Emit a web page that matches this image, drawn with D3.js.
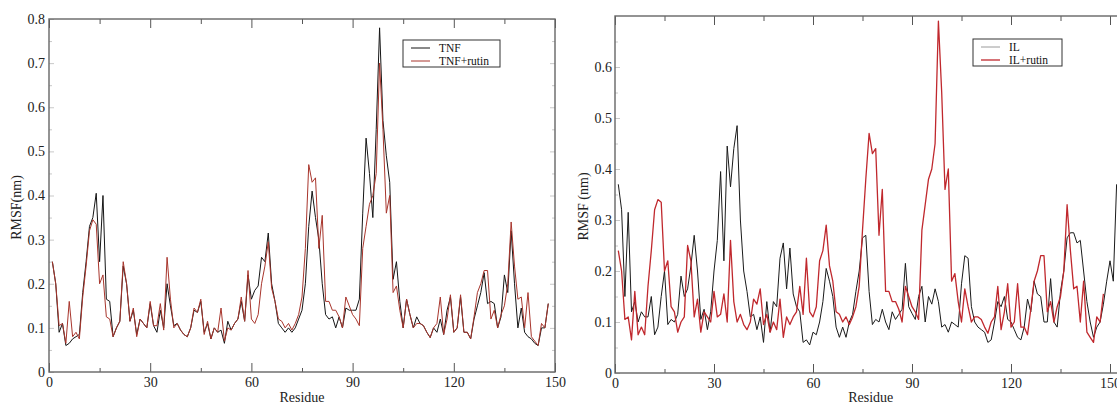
<!DOCTYPE html>
<html>
<head>
<meta charset="utf-8">
<script src="https://cdn.jsdelivr.net/npm/d3@7"></script>
<style>
  html, body { margin: 0; padding: 0; background: #fff; overflow: hidden; }
  svg { display: block; font-family: "Liberation Serif", "DejaVu Serif", serif; }
  .tick-label { font-size: 14px; fill: #222; }
  .axis-title { font-size: 14px; fill: #222; }
  .legend-text { font-size: 11.5px; fill: #111; }
</style>
</head>
<body>
<div id="chart"></div>
<script>
//data - RMSF per residue (nm)

var tnf = [0.25, 0.2, 0.09, 0.11, 0.06, 0.065, 0.075, 0.08, 0.085, 0.18,
    0.25, 0.33, 0.35, 0.405, 0.25, 0.40, 0.165, 0.16, 0.08, 0.1,
    0.115, 0.24, 0.2, 0.115, 0.14, 0.085, 0.12, 0.11, 0.1, 0.155,
    0.105, 0.09, 0.14, 0.1, 0.2, 0.15, 0.105, 0.11, 0.095, 0.085,
    0.08, 0.1, 0.14, 0.135, 0.16, 0.09, 0.11, 0.075, 0.1, 0.09,
    0.095, 0.065, 0.115, 0.095, 0.11, 0.12, 0.16, 0.115, 0.22, 0.165,
    0.185, 0.195, 0.26, 0.25, 0.315, 0.2, 0.16, 0.11, 0.1, 0.09,
    0.1, 0.09, 0.1, 0.12, 0.14, 0.2, 0.33, 0.41, 0.35, 0.3,
    0.2, 0.13, 0.12, 0.125, 0.1, 0.125, 0.1, 0.145, 0.14, 0.14,
    0.14, 0.165, 0.36, 0.53, 0.45, 0.35, 0.55, 0.78, 0.57, 0.49,
    0.43, 0.21, 0.25, 0.16, 0.1, 0.165, 0.13, 0.1, 0.125, 0.11,
    0.105, 0.09, 0.078, 0.1, 0.09, 0.12, 0.085, 0.14, 0.17, 0.09,
    0.1, 0.17, 0.09, 0.09, 0.075, 0.12, 0.15, 0.18, 0.225, 0.155,
    0.16, 0.155, 0.1, 0.125, 0.22, 0.18, 0.32, 0.2, 0.1, 0.145,
    0.09, 0.08, 0.075, 0.065, 0.06, 0.1, 0.1, 0.155];

var tnfRutin = [0.25, 0.2, 0.105, 0.11, 0.065, 0.16, 0.08, 0.09, 0.075, 0.17,
    0.24, 0.32, 0.345, 0.335, 0.2, 0.22, 0.125, 0.12, 0.08, 0.1,
    0.115, 0.25, 0.2, 0.115, 0.145, 0.08, 0.12, 0.11, 0.1, 0.16,
    0.105, 0.105, 0.155, 0.095, 0.26, 0.165, 0.1, 0.11, 0.095, 0.085,
    0.08, 0.1, 0.145, 0.135, 0.165, 0.085, 0.115, 0.075, 0.1, 0.09,
    0.145, 0.07, 0.1, 0.095, 0.11, 0.12, 0.17, 0.115, 0.23, 0.12,
    0.11, 0.13, 0.2, 0.24, 0.295, 0.19, 0.16, 0.12, 0.115, 0.1,
    0.11, 0.095, 0.11, 0.13, 0.17, 0.28, 0.47, 0.43, 0.44, 0.28,
    0.355, 0.16, 0.16, 0.14, 0.14, 0.125, 0.1, 0.17, 0.15, 0.13,
    0.12, 0.105, 0.28, 0.33, 0.38, 0.4, 0.45, 0.70, 0.55, 0.36,
    0.4, 0.18, 0.195, 0.14, 0.1, 0.165, 0.13, 0.1, 0.11, 0.11,
    0.105, 0.09, 0.078, 0.1, 0.11, 0.17, 0.085, 0.12, 0.175, 0.09,
    0.1, 0.175, 0.09, 0.09, 0.075, 0.125, 0.18, 0.2, 0.23, 0.23,
    0.12, 0.14, 0.1, 0.13, 0.15, 0.2, 0.34, 0.24, 0.165, 0.17,
    0.1, 0.18, 0.08, 0.07, 0.06, 0.11, 0.1, 0.155];

var il = [0.37, 0.32, 0.15, 0.315, 0.12, 0.14, 0.1, 0.12, 0.11, 0.11,
    0.15, 0.075, 0.09, 0.15, 0.2, 0.095, 0.105, 0.1, 0.115, 0.19,
    0.15, 0.165, 0.21, 0.27, 0.2, 0.105, 0.125, 0.085, 0.12, 0.2,
    0.26, 0.395, 0.22, 0.445, 0.365, 0.44, 0.485, 0.3, 0.2, 0.16,
    0.11, 0.115, 0.085, 0.11, 0.06, 0.14, 0.08, 0.14, 0.13, 0.225,
    0.255, 0.165, 0.245, 0.155, 0.13, 0.12, 0.06, 0.065, 0.055, 0.08,
    0.075, 0.1, 0.14, 0.205, 0.18, 0.15, 0.09, 0.07, 0.09, 0.07,
    0.1, 0.115, 0.16, 0.2, 0.265, 0.27, 0.16, 0.095, 0.105, 0.1,
    0.125, 0.1, 0.085, 0.12, 0.105, 0.115, 0.125, 0.215, 0.13, 0.117,
    0.105, 0.15, 0.17, 0.1, 0.15, 0.135, 0.165, 0.14, 0.09, 0.095,
    0.08, 0.1, 0.095, 0.09, 0.175, 0.23, 0.225, 0.13, 0.1, 0.09,
    0.085, 0.08, 0.06, 0.065, 0.1, 0.14, 0.13, 0.15, 0.105, 0.1,
    0.085, 0.07, 0.065, 0.09, 0.145, 0.12, 0.18, 0.155, 0.15, 0.1,
    0.1, 0.185, 0.1, 0.09, 0.16, 0.2, 0.265, 0.275, 0.275, 0.255,
    0.26, 0.2, 0.14, 0.1, 0.07, 0.09, 0.1, 0.135, 0.18, 0.22,
    0.18, 0.37];

var ilRutin = [0.24, 0.2, 0.105, 0.11, 0.065, 0.16, 0.075, 0.09, 0.075, 0.17,
    0.24, 0.32, 0.34, 0.335, 0.2, 0.22, 0.13, 0.12, 0.08, 0.1,
    0.11, 0.25, 0.22, 0.11, 0.145, 0.08, 0.12, 0.11, 0.1, 0.16,
    0.11, 0.115, 0.155, 0.1, 0.26, 0.14, 0.1, 0.115, 0.095, 0.085,
    0.1, 0.145, 0.135, 0.165, 0.095, 0.115, 0.08, 0.1, 0.085, 0.145,
    0.07, 0.11, 0.095, 0.11, 0.12, 0.17, 0.115, 0.225, 0.12, 0.11,
    0.13, 0.22, 0.24, 0.29, 0.21, 0.18, 0.12, 0.115, 0.1, 0.11,
    0.095, 0.11, 0.13, 0.17, 0.28, 0.38, 0.47, 0.43, 0.44, 0.27,
    0.36, 0.16, 0.16, 0.14, 0.14, 0.125, 0.1, 0.17, 0.15, 0.13,
    0.12, 0.105, 0.28, 0.33, 0.38, 0.4, 0.45, 0.69, 0.55, 0.36,
    0.4, 0.18, 0.195, 0.14, 0.1, 0.165, 0.13, 0.1, 0.11, 0.11,
    0.105, 0.09, 0.078, 0.1, 0.11, 0.17, 0.085, 0.12, 0.175, 0.09,
    0.1, 0.175, 0.09, 0.09, 0.075, 0.125, 0.18, 0.2, 0.23, 0.23,
    0.12, 0.14, 0.1, 0.13, 0.15, 0.2, 0.33, 0.24, 0.165, 0.17,
    0.1, 0.18, 0.08, 0.07, 0.06, 0.11, 0.1, 0.155];

//tick labels
var xTicks = [0, 30, 60, 90, 120, 150];
var leftYTicks = [0, 0.1, 0.2, 0.3, 0.4, 0.5, 0.6, 0.7, 0.8];
var rightYTicks = [0, 0.1, 0.2, 0.3, 0.4, 0.5, 0.6];

//panels
var panels = [
    {
        xDomain: [0, 150], yDomain: [0, 0.8],
        left: 49, right: 555, top: 19, bottom: 372,
        yTicks: leftYTicks, yTitle: 'RMSF(nm)', titleX: 16, yPad: 4,
        series: [
            { name: 'TNF', values: tnf, color: '#151515', width: 1 },
            { name: 'TNF+rutin', values: tnfRutin, color: '#a8352c', width: 1 }
        ],
        legend: { x: 403, y: 40, w: 97, h: 27 }
    },
    {
        xDomain: [0, 155], yDomain: [0, 0.7],
        left: 615, right: 1126.5, top: 16, bottom: 373,
        yTicks: rightYTicks, yTitle: 'RMSF (nm)', titleX: 583, yPad: 3,
        series: [
            { name: 'IL', values: il, color: '#1a1a1a', width: 1, legendColor: '#9a9a9a' },
            { name: 'IL+rutin', values: ilRutin, color: '#c0282d', width: 1.3 }
        ],
        legend: { x: 973, y: 39, w: 89, h: 27 }
    }
];

var svg = d3.select('#chart').append('svg')
    .attr('width', 1117)
    .attr('height', 405);

function buildPanel(p) {
    var xScale = d3.scaleLinear().domain(p.xDomain).range([p.left, p.right]),
        yScale = d3.scaleLinear().domain(p.yDomain).range([p.bottom, p.top]);

    var g = svg.append('g');
    var h = p.bottom - p.top,
        w = p.right - p.left;

    var minorX = d3.range(15, 151, 30),
        minorY = d3.range(0.05, p.yDomain[1], 0.1);

    //bottom axis with labels, inward ticks
    g.append('g')
        .attr('transform', 'translate(0,' + p.bottom + ')')
        .call(d3.axisBottom(xScale).tickValues(xTicks).tickSize(-9).tickSizeOuter(0).tickPadding(5)
            .tickFormat(d3.format('d')));
    g.append('g')
        .attr('transform', 'translate(0,' + p.bottom + ')')
        .call(d3.axisBottom(xScale).tickValues(minorX).tickSize(-4).tickSizeOuter(0).tickFormat(''));

    //top axis
    g.append('g')
        .attr('transform', 'translate(0,' + p.top + ')')
        .call(d3.axisTop(xScale).tickValues(xTicks).tickSize(-9).tickSizeOuter(0).tickFormat(''));
    g.append('g')
        .attr('transform', 'translate(0,' + p.top + ')')
        .call(d3.axisTop(xScale).tickValues(minorX).tickSize(-5).tickSizeOuter(0).tickFormat(''));

    //left axis
    g.append('g')
        .attr('class', 'y-axis')
        .attr('transform', 'translate(' + p.left + ',0)')
        .call(d3.axisLeft(yScale).tickValues(p.yTicks).tickSize(-5).tickSizeOuter(0).tickPadding(p.yPad)
            .tickFormat(function(d) { return d === 0 ? '0' : d3.format('.1f')(d); }));
    g.append('g')
        .attr('class', 'y-axis')
        .attr('transform', 'translate(' + p.left + ',0)')
        .call(d3.axisLeft(yScale).tickValues(minorY).tickSize(-3).tickSizeOuter(0).tickFormat(''));

    //right axis
    g.append('g')
        .attr('class', 'y-axis')
        .attr('transform', 'translate(' + p.right + ',0)')
        .call(d3.axisRight(yScale).tickValues(p.yTicks).tickSize(-5).tickSizeOuter(0).tickFormat(''));
    g.append('g')
        .attr('class', 'y-axis')
        .attr('transform', 'translate(' + p.right + ',0)')
        .call(d3.axisRight(yScale).tickValues(minorY).tickSize(-3).tickSizeOuter(0).tickFormat(''));

    //drop d3's default axis font so the serif from css is used
    g.selectAll('g')
        .attr('font-family', null)
        .attr('font-size', null);
    g.selectAll('.domain').remove();
    g.selectAll('.tick line').attr('stroke', '#555').attr('stroke-width', 1);
    g.selectAll('.y-axis .tick line').attr('stroke', '#c8c8c8');
    g.selectAll('.tick text').attr('class', 'tick-label');

    //frame
    g.append('rect')
        .attr('x', p.left)
        .attr('y', p.top)
        .attr('width', w)
        .attr('height', h)
        .attr('fill', 'none')
        .attr('stroke', '#666')
        .attr('stroke-width', 1.4);

    //lines
    p.series.forEach(function(s) {
        var line = d3.line()
            .x(function(d, i) { return xScale(i + 1); })
            .y(function(d) { return yScale(d); });
        g.append('path')
            .datum(s.values)
            .attr('fill', 'none')
            .attr('stroke', s.color)
            .attr('stroke-width', s.width)
            .attr('stroke-linejoin', 'round')
            .attr('d', line);
    });

    //titles
    g.append('text')
        .attr('class', 'axis-title')
        .attr('text-anchor', 'middle')
        .attr('x', (p.left + p.right) / 2)
        .attr('y', 402)
        .text('Residue');

    g.append('text')
        .attr('class', 'axis-title')
        .attr('text-anchor', 'middle')
        .attr('transform', 'translate(' + p.titleX + ',' + ((p.top + p.bottom) / 2 + 12) + ') rotate(-90)')
        .attr('dy', '0.35em')
        .text(p.yTitle);

    //legend
    var lg = g.append('g').attr('transform', 'translate(' + p.legend.x + ',' + p.legend.y + ')');
    lg.append('rect')
        .attr('width', p.legend.w)
        .attr('height', p.legend.h)
        .attr('fill', '#fff')
        .attr('stroke', '#333')
        .attr('stroke-width', 1);
    p.series.forEach(function(s, i) {
        var cy = 8 + i * 13;
        lg.append('line')
            .attr('x1', 8).attr('x2', 27)
            .attr('y1', cy).attr('y2', cy)
            .attr('stroke', s.legendColor || s.color)
            .attr('stroke-width', s.width);
        lg.append('text')
            .attr('class', 'legend-text')
            .attr('x', 36)
            .attr('y', cy + 4)
            .text(s.name);
    });
}

panels.forEach(buildPanel);
</script>
</body>
</html>
